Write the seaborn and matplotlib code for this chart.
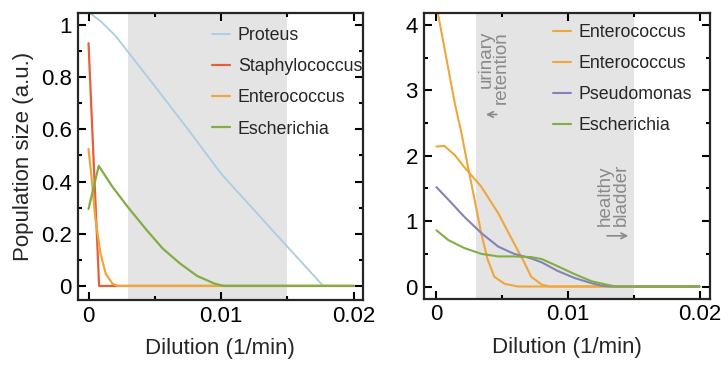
import numpy as np
import pandas as pd
import matplotlib
matplotlib.use("Agg")
import matplotlib.pyplot as plt
from matplotlib.ticker import MultipleLocator, FuncFormatter
import seaborn as sns

# left panel: population vs dilution
proteus_x = [0, 0.001, 0.002, 0.003, 0.005, 0.0075, 0.01, 0.0125, 0.015, 0.0177, 0.02]
proteus_y = [1.05, 1.01, 0.96, 0.895, 0.765, 0.60, 0.43, 0.29, 0.15, 0, 0]

staph_x = [0, 0.0008, 0.02]
staph_y = [0.93, 0, 0]

entero_x = [0, 0.00026, 0.0005, 0.0009, 0.0013, 0.0018, 0.0022, 0.02]
entero_y = [0.525, 0.40, 0.265, 0.125, 0.047, 0.009, 0, 0]

esch_x = [0, 0.00077, 0.0018, 0.003, 0.0044, 0.0056, 0.0069, 0.0082, 0.0095, 0.0102, 0.02]
esch_y = [0.295, 0.46, 0.38, 0.30, 0.213, 0.143, 0.086, 0.038, 0.009, 0, 0]

# right panel
enteroA_x = [0, 0.0014, 0.0019, 0.0024, 0.0029, 0.0034, 0.0039, 0.0044, 0.0052, 0.0062, 0.02]
enteroA_y = [4.3, 2.8, 2.35, 1.83, 1.33, 0.82, 0.41, 0.15, 0.04, 0, 0]

enteroB_x = [0, 0.0006, 0.0014, 0.0021, 0.0034, 0.0047, 0.0059, 0.0067, 0.0072, 0.008, 0.0086, 0.02]
enteroB_y = [2.14, 2.15, 2.01, 1.83, 1.53, 1.12, 0.66, 0.36, 0.15, 0.03, 0, 0]

pseudo_x = [0, 0.0009, 0.0021, 0.0034, 0.0047, 0.0059, 0.0072, 0.008, 0.0092, 0.0105, 0.0118, 0.0125, 0.0132, 0.02]
pseudo_y = [1.52, 1.33, 1.07, 0.82, 0.61, 0.50, 0.43, 0.37, 0.24, 0.13, 0.05, 0.015, 0, 0]

esch2_x = [0, 0.0009, 0.0021, 0.0034, 0.0047, 0.0059, 0.0072, 0.008, 0.009, 0.0105, 0.0118, 0.013, 0.0137, 0.02]
esch2_y = [0.86, 0.71, 0.59, 0.50, 0.46, 0.46, 0.45, 0.42, 0.33, 0.19, 0.08, 0.025, 0, 0]

healthy_range = (0.003, 0.015)

c_blue = "#a9cde3"
c_red = "#e4603c"
c_orange = "#efa63a"
c_green = "#82ad45"
c_purple = "#8383b9"

sns.set_style("ticks")
plt.rcParams["font.family"] = ["Liberation Sans", "DejaVu Sans"]

fig = plt.figure(figsize=(7.21, 3.65), dpi=100)
ax1 = fig.add_axes([0.1075, 0.178, 0.396, 0.786])
ax2 = fig.add_axes([0.5874, 0.181, 0.3974, 0.783])

left_series = [
    ("Proteus", proteus_x, proteus_y, c_blue, 1.3),
    ("Staphylococcus", staph_x, staph_y, c_red, 1.6),
    ("Enterococcus", entero_x, entero_y, c_orange, 1.6),
    ("Escherichia", esch_x, esch_y, c_green, 1.6),
]
right_series = [
    ("Enterococcus", enteroA_x, enteroA_y, c_orange, 1.5),
    ("Enterococcus", enteroB_x, enteroB_y, c_orange, 1.5),
    ("Pseudomonas", pseudo_x, pseudo_y, c_purple, 1.5),
    ("Escherichia", esch2_x, esch2_y, c_green, 1.5),
]

legend_anchor = {0: (0.471, 0.952), 1: (0.451, 0.9626)}

for i, (ax, series) in enumerate([(ax1, left_series), (ax2, right_series)]):
    ax.axvspan(*healthy_range, color="#e4e4e4", lw=0, zorder=0)
    for name, xs, ys, col, lw in series:
        df = pd.DataFrame({"dilution": xs, "pop": ys})
        sns.lineplot(data=df, x="dilution", y="pop", ax=ax, color=col, lw=lw,
                     label=name, estimator=None, sort=False)
    ax.legend(frameon=False, loc="upper left", bbox_to_anchor=legend_anchor[i],
              fontsize=12.8, handlelength=1.0, handletextpad=0.45,
              labelspacing=0.8, borderpad=0, borderaxespad=0)

ax1.set_xlim(-0.00083, 0.0207)
ax1.set_ylim(-0.054, 1.045)
ax2.set_xlim(-0.00098, 0.0208)
ax2.set_ylim(-0.19, 4.18)

fmt = FuncFormatter(lambda v, p: "%g" % round(v, 6))
for ax in (ax1, ax2):
    ax.xaxis.set_major_locator(MultipleLocator(0.01))
    ax.xaxis.set_minor_locator(MultipleLocator(0.005))
    ax.xaxis.set_major_formatter(fmt)
    ax.yaxis.set_major_formatter(fmt)
    ax.tick_params(which="both", direction="in", top=True, right=True, width=1.5,
                   labelsize=16, colors="black")
    ax.tick_params(which="major", length=6)
    ax.tick_params(which="minor", length=3)
    ax.tick_params(axis="x", pad=4)
    ax.tick_params(axis="y", pad=4)
    for s in ax.spines.values():
        s.set_linewidth(1.6)
    ax.set_xlabel("Dilution (1/min)", fontsize=16, labelpad=8)

ax1.yaxis.set_major_locator(MultipleLocator(0.2))
ax1.yaxis.set_minor_locator(MultipleLocator(0.1))
ax2.yaxis.set_major_locator(MultipleLocator(1))
ax2.yaxis.set_minor_locator(MultipleLocator(0.5))
ax1.set_ylabel("Population size (a.u.)", fontsize=16, labelpad=5)
ax2.set_ylabel("")

# annotations on the right panel
gray = "#8a8a8a"
ax2.text(0.00437, 3.91, "urinary\nretention", rotation=90, ha="center", va="top",
         multialignment="right", fontsize=13.5, color=gray, linespacing=0.9)
ax2.annotate("", xy=(0.00355, 2.63), xytext=(0.0048, 2.63),
             arrowprops=dict(arrowstyle="->", color=gray, lw=1.2))
ax2.text(0.01344, 0.92, "healthy\nbladder", rotation=90, ha="center", va="bottom",
         multialignment="left", fontsize=13.5, color=gray, linespacing=0.9)
ax2.annotate("", xy=(0.0148, 0.775), xytext=(0.01276, 0.775),
             arrowprops=dict(arrowstyle="->", color=gray, lw=1.2))

fig.savefig("out.png", dpi=100)
